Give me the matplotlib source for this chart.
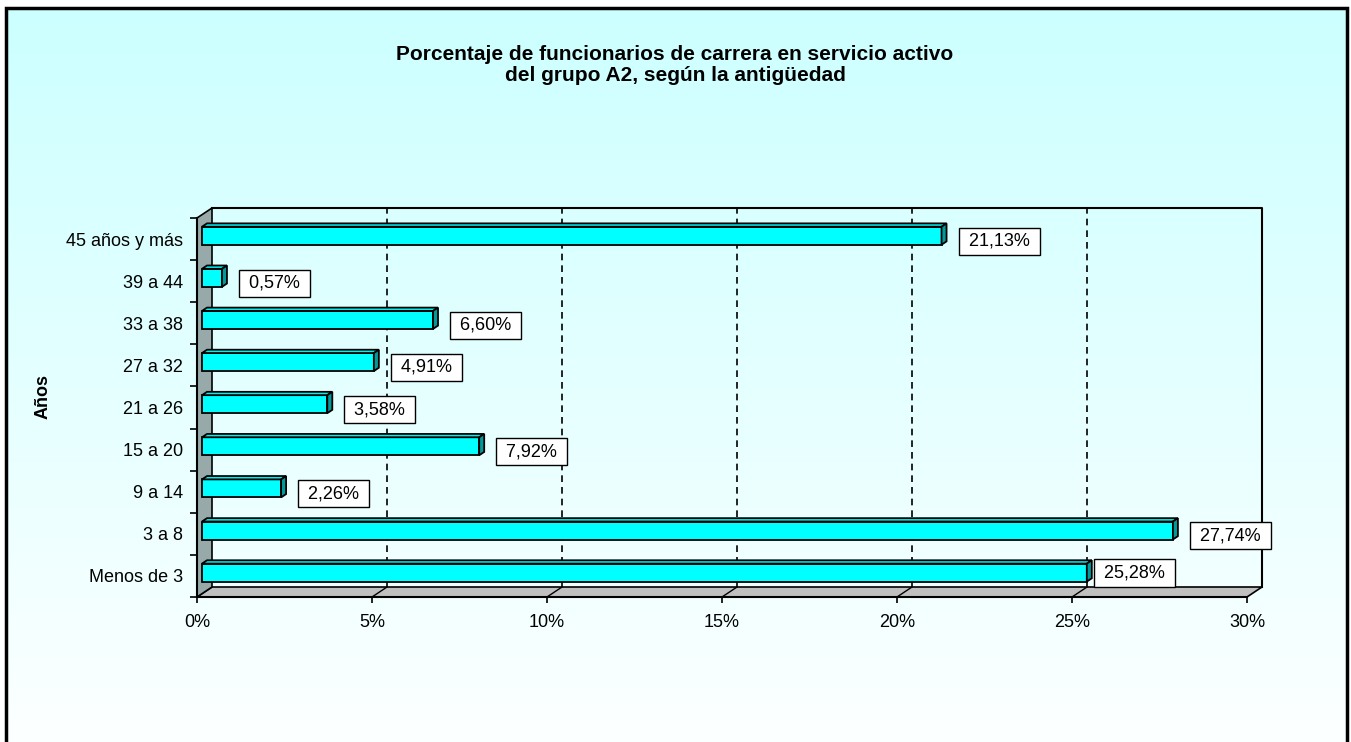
import numpy as np
import matplotlib.pyplot as plt
from matplotlib.patches import Polygon, Rectangle

plt.rcParams['font.family'] = ['Liberation Sans', 'DejaVu Sans']

# data (bottom to top, as drawn)
CATEGORIES = ["Menos de 3", "3 a 8", "9 a 14", "15 a 20", "21 a 26",
              "27 a 32", "33 a 38", "39 a 44", "45 años y más"]
VALUES = [25.28, 27.74, 2.26, 7.92, 3.58, 4.91, 6.60, 0.57, 21.13]
X_TICKS = [0, 5, 10, 15, 20, 25, 30]
TITLE = "Porcentaje de funcionarios de carrera en servicio activo\ndel grupo A2, según la antigüedad"
YLABEL = "Años"

W, H = 1351, 742
fig = plt.figure(figsize=(W / 100, H / 100), dpi=100)
fig.patch.set_facecolor("white")

# background gradient inside the chart border
bg = fig.add_axes([6 / W, 0, (1347 - 6) / W, 1 - 8 / H], zorder=0)
grad = np.linspace(0, 1, 256)[:, None]
top = np.array([0.80, 1.0, 1.0])
bot = np.array([0.99, 1.0, 1.0])
img = top[None, None, :] * (1 - grad[..., None]) + bot[None, None, :] * grad[..., None]
bg.imshow(img, aspect="auto", extent=[0, 1, 0, 1])
bg.set_axis_off()
fig.patches.append(Rectangle((6 / W, -0.05), (1347 - 6) / W, 1.05 - 8 / H,
                             transform=fig.transFigure, fill=False,
                             edgecolor="black", linewidth=2.5, zorder=5))

# front plane of the 3-D box
x0, x1 = 197, 1247
y0, y1 = 597, 218
ax = fig.add_axes([x0 / W, 1 - y0 / H, (x1 - x0) / W, (y0 - y1) / H], zorder=1)
ax.set_facecolor("none")
n = len(CATEGORIES)
ax.set_xlim(0, 30)
ax.set_ylim(-0.5, n - 0.5)

px_x = (x1 - x0) / 30.0
px_y = (y0 - y1) / n
DX = 15 / px_x   # depth offset in data units
DY = 10 / px_y
h = 18 / px_y    # bar thickness

lo, hi = -0.5, n - 0.5
# floor
ax.add_patch(Polygon([(0, lo), (30, lo), (30 + DX, lo + DY), (DX, lo + DY)],
                     closed=True, facecolor="#c0c0c0", edgecolor="black",
                     linewidth=1.2, clip_on=False, zorder=1))
# left wall
ax.add_patch(Polygon([(0, lo), (DX, lo + DY), (DX, hi + DY), (0, hi)],
                     closed=True, facecolor="#97a9a9", edgecolor="black",
                     linewidth=1.2, clip_on=False, zorder=1))
# back wall outline
ax.plot([DX, 30 + DX, 30 + DX], [hi + DY, hi + DY, lo + DY], color="black",
        linewidth=1.5, clip_on=False, zorder=1)
# gridlines on back wall + floor
for t in X_TICKS[1:-1]:
    ax.plot([t + DX, t + DX], [lo + DY, hi + DY], color="black", linewidth=1.2,
            linestyle=(0, (4, 3)), clip_on=False, zorder=1.5)
    ax.plot([t, t + DX], [lo, lo + DY], color="black", linewidth=1,
            clip_on=False, zorder=1.5)

# bars
LABEL_FS = 13
BOX_PAD = 0.28
pad_px = BOX_PAD * LABEL_FS * 100 / 72
for i, v in enumerate(VALUES):
    b = i - h / 2 + DY / 3
    t = i + h / 2 + DY / 3
    xa, xb = DX / 3, v + DX / 3
    ax.add_patch(Rectangle((xa, b), v, h, facecolor="#00ffff", edgecolor="black",
                           linewidth=1.3, clip_on=False, zorder=3))
    ax.add_patch(Polygon([(xa, t), (xb, t), (xb + DX / 3, t + DY / 3), (xa + DX / 3, t + DY / 3)],
                         closed=True, facecolor="#00f0f0", edgecolor="black",
                         linewidth=1.3, clip_on=False, zorder=3))
    ax.add_patch(Polygon([(xb, b), (xb + DX / 3, b + DY / 3), (xb + DX / 3, t + DY / 3), (xb, t)],
                         closed=True, facecolor="#009a9a", edgecolor="black",
                         linewidth=1.3, clip_on=False, zorder=3))
    end = v + 2 * DX / 3
    if i == 0:
        lx, ly = end + (2 + pad_px) / px_x, i + 0.07
    else:
        lx, ly = end + (12 + pad_px) / px_x, i - 0.05
    ax.text(lx, ly, " " + f"{v:.2f}".replace(".", ",") + "% ", ha="left", va="center",
            fontsize=LABEL_FS, zorder=4,
            bbox=dict(boxstyle=f"square,pad={BOX_PAD}", facecolor="white",
                      edgecolor="black", linewidth=1))

# axes
for s in ["top", "right"]:
    ax.spines[s].set_visible(False)
ax.spines["left"].set_linewidth(1.5)
ax.spines["bottom"].set_linewidth(1.5)
ax.spines["left"].set_zorder(2)
ax.spines["bottom"].set_zorder(2)
ax.set_xticks(X_TICKS)
ax.set_xticklabels([f"{t}%" for t in X_TICKS])
ax.set_yticks(range(n))
ax.set_yticklabels(CATEGORIES)
ax.set_yticks(np.arange(n + 1) - 0.5, minor=True)
ax.tick_params(axis="x", direction="out", length=4, width=1.2, pad=8, labelsize=13)
ax.tick_params(axis="y", which="major", length=0, pad=10, labelsize=13)
ax.tick_params(axis="y", which="minor", direction="out", length=5, width=1.2)

fig.text(43 / W, 1 - 397 / H, YLABEL, rotation=90, ha="center", va="center",
         fontsize=13, fontweight="bold")
fig.text(675 / W, 1 - 65 / H, TITLE, ha="center", va="center", fontsize=15,
         fontweight="bold", linespacing=1.12)

fig.savefig("out.png", dpi=100)
